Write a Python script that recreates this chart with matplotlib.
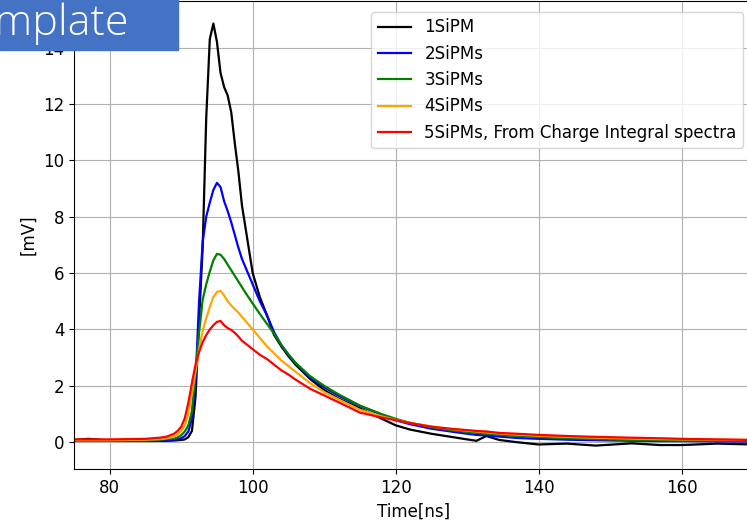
import matplotlib
matplotlib.use("Agg")
import matplotlib.pyplot as plt
import matplotlib.patches as mpatches

# time axis [ns] shared by all waveforms
t = [75, 77, 80, 85, 87, 88, 89, 89.5, 90, 90.5, 91, 91.5, 92, 92.5, 93, 93.5,
     94, 94.5, 95, 95.5, 96, 96.5, 97, 97.5, 98, 98.5, 99, 100, 101, 102, 103,
     104, 105, 106, 108, 110, 112, 115, 118, 120, 122, 125, 128, 130, 131.3,
     132.7, 134.5, 137, 140, 144, 148, 153, 157, 160, 165, 170]

sipm1 = [0.08, 0.12, 0.06, 0.05, 0.05, 0.05, 0.06, 0.07, 0.08, 0.1, 0.18, 0.4,
         1.6, 4.3, 6.9, 11.5, 14.3, 14.85, 14.2, 13.1, 12.6, 12.3, 11.7, 10.6,
         9.6, 8.4, 7.6, 6.0, 5.15, 4.5, 3.8, 3.4, 3.05, 2.75, 2.25, 1.85, 1.55,
         1.2, 0.84, 0.6, 0.45, 0.3, 0.18, 0.1, 0.05, 0.22, 0.08, 0.0, -0.08,
         -0.05, -0.12, -0.04, -0.1, -0.1, -0.05, -0.08]

sipm2 = [0.05, 0.05, 0.05, 0.05, 0.06, 0.07, 0.09, 0.11, 0.14, 0.22, 0.38, 0.85,
         2.1, 5.0, 7.1, 8.0, 8.5, 8.95, 9.2, 9.05, 8.55, 8.2, 7.8, 7.35, 6.9,
         6.5, 6.2, 5.6, 5.0, 4.5, 3.9, 3.45, 3.1, 2.8, 2.3, 1.95, 1.65, 1.28,
         0.98, 0.78, 0.64, 0.48, 0.37, 0.3, 0.26, 0.24, 0.2, 0.15, 0.12, 0.09,
         0.07, 0.05, 0.04, 0.04, 0.03, 0.02]

sipm3 = [0.06, 0.06, 0.06, 0.07, 0.09, 0.11, 0.13, 0.17, 0.25, 0.38, 0.6, 1.1,
         2.5, 3.9, 5.05, 5.6, 6.05, 6.45, 6.68, 6.65, 6.5, 6.3, 6.1, 5.9, 5.7,
         5.5, 5.3, 4.92, 4.55, 4.2, 3.85, 3.45, 3.12, 2.82, 2.35, 2.0, 1.7,
         1.3, 1.0, 0.83, 0.69, 0.53, 0.42, 0.36, 0.33, 0.3, 0.26, 0.22, 0.18,
         0.14, 0.11, 0.08, 0.07, 0.06, 0.05, 0.04]

sipm4 = [0.07, 0.07, 0.07, 0.09, 0.11, 0.14, 0.2, 0.27, 0.4, 0.6, 1.0, 1.75,
         2.5, 3.3, 3.95, 4.4, 4.8, 5.15, 5.33, 5.37, 5.2, 5.0, 4.85, 4.72, 4.6,
         4.45, 4.3, 4.0, 3.7, 3.4, 3.15, 2.9, 2.7, 2.5, 2.1, 1.78, 1.52, 1.15,
         0.92, 0.79, 0.69, 0.56, 0.46, 0.41, 0.38, 0.35, 0.31, 0.27, 0.23,
         0.19, 0.16, 0.13, 0.11, 0.1, 0.09, 0.08]

sipm5 = [0.1, 0.1, 0.1, 0.12, 0.16, 0.2, 0.3, 0.4, 0.55, 0.85, 1.4, 2.1, 2.75,
         3.2, 3.55, 3.8, 4.0, 4.15, 4.27, 4.3, 4.15, 4.05, 3.98, 3.88, 3.75,
         3.6, 3.5, 3.3, 3.1, 2.95, 2.75, 2.55, 2.4, 2.22, 1.9, 1.66, 1.42, 1.05,
         0.88, 0.78, 0.68, 0.55, 0.47, 0.43, 0.4, 0.38, 0.33, 0.3, 0.26, 0.22,
         0.19, 0.16, 0.14, 0.12, 0.1, 0.08]

series = [sipm1, sipm2, sipm3, sipm4, sipm5]
labels = ['1SiPM', '2SiPMs', '3SiPMs', '4SiPMs',
          '5SiPMs, From Charge Integral spectra']
colors = ['black', 'blue', 'green', 'orange', 'red']

fs = 12

fig = plt.figure(figsize=(7.47, 5.23), dpi=100)
# axes runs a little past the right edge (screenshot is cropped there)
ax = fig.add_axes([74 / 747, 54 / 523, 679 / 747, 468 / 523])

for y, lab, c in zip(series, labels, colors):
    ax.plot(t, y, color=c, label=lab, lw=1.6, solid_joinstyle='round')

ax.set_xlim(75, 170)
ax.set_ylim(-0.95, 15.65)
ax.set_xticks([80, 100, 120, 140, 160])
ax.set_yticks([0, 2, 4, 6, 8, 10, 12, 14])
ax.tick_params(labelsize=fs)
ax.grid(True)
ax.set_xlabel('Time[ns]', fontsize=fs)
ax.set_ylabel('[mV]', fontsize=fs)
ax.legend(loc='upper right', fontsize=fs, bbox_to_anchor=(0.998, 0.995))

# blue title box from the slide, cut off at the left edge
box = mpatches.Rectangle((0, 1 - 50 / 523), 178 / 747, 50 / 523,
                         transform=fig.transFigure, color='#4472C4',
                         zorder=5)
fig.add_artist(box)
fig.text(-48 / 747, 1 - 35 / 523, 'Template', color='white', fontsize=31,
         family='Open Sans', fontweight='light', va='baseline', ha='left',
         zorder=6)

fig.savefig('out.png', dpi=100)
